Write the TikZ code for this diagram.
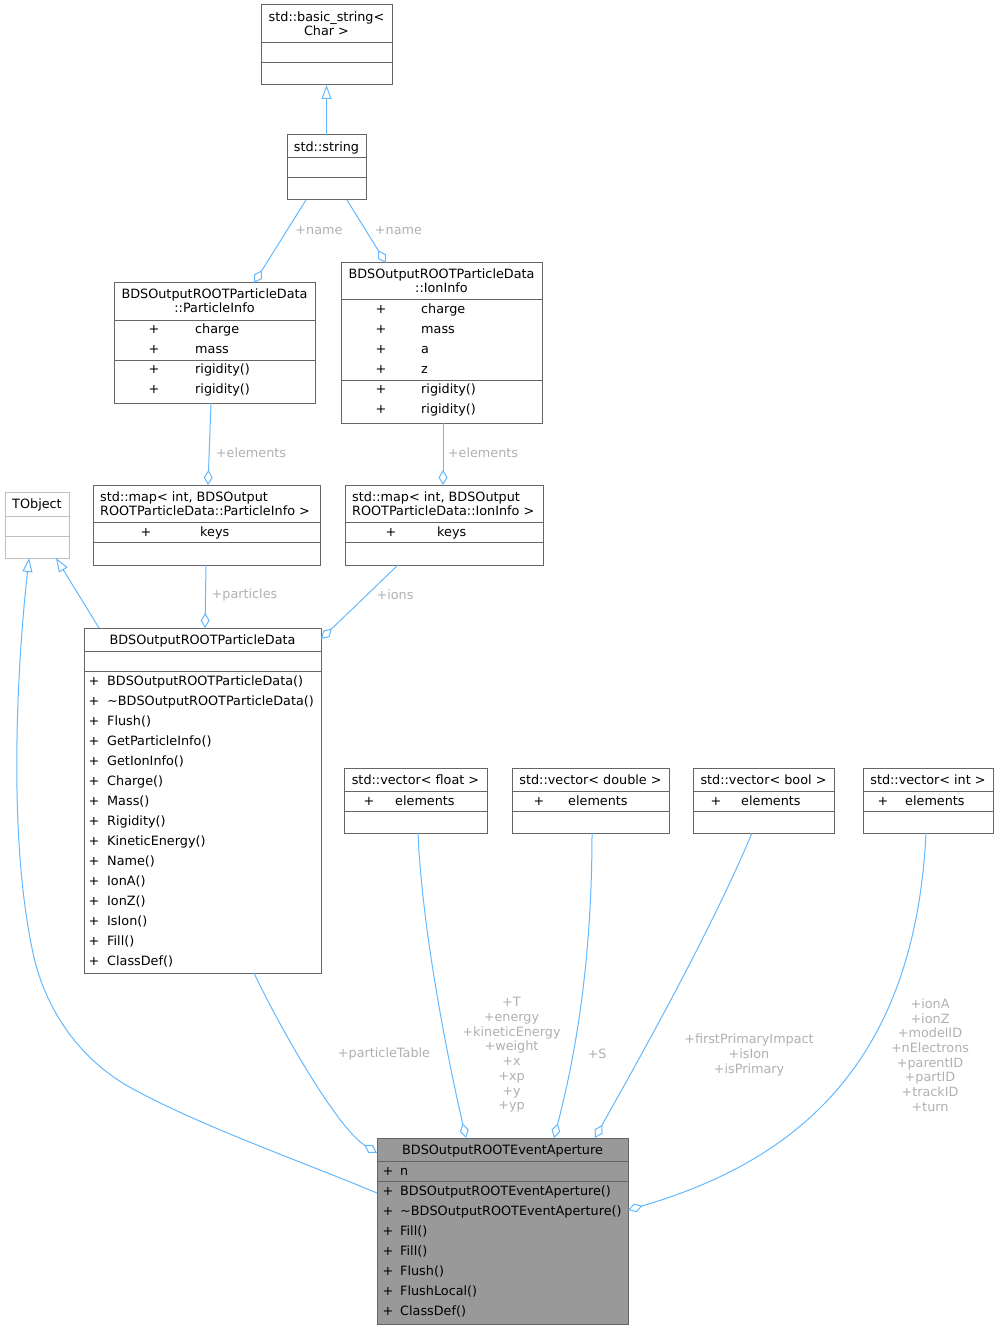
\documentclass[tikz,border=0pt]{standalone}
\usepackage{fontspec}
\setmainfont{DejaVu Sans}
\usetikzlibrary{arrows.meta,calc}
\definecolor{edgeblue}{HTML}{63B8FF}
\definecolor{boxgray}{HTML}{666666}
\definecolor{lightbox}{HTML}{BFBFBF}
\definecolor{eafill}{HTML}{999999}
\definecolor{lblgray}{HTML}{B0B0B0}
\newcommand\mybox[6]{\node[box,#6,minimum width={#4-#2},minimum height={#5-#3}] (#1) at (#2,#3) {};}
\newcommand\mysep[3][boxgray]{\draw[draw=#1,line width=1pt] ($(#2.north west)+(0,#3)$) -- ($(#2.north east)+(0,#3)$);}
\newcommand\mytc[4]{\node[rt,anchor=base] (#1) at (#2,#3) {#4};}
\newcommand\mytl[4]{\node[rt,anchor=base west] (#1) at (#2,#3) {#4};}
\newcommand\mylb[4]{\node[lt] (#1) at (#2,#3) {#4};}
\begin{document}
\begin{tikzpicture}[x=1pt,y=-1pt,
  box/.style={draw=boxgray,line width=1pt,fill=white,anchor=north west,inner sep=0pt,outer sep=0pt},
  rt/.style={font=\fontsize{12.8}{14.7}\selectfont,inner sep=0pt,text=black},
  lt/.style={font=\fontsize{12.8}{14.7}\selectfont,inner sep=0pt,text=lblgray,align=center},
  agg/.style={draw=edgeblue,line width=1pt,-{Diamond[open,length=15pt,width=9pt]}},
  inh/.style={draw=edgeblue,line width=1pt,-{Triangle[open,length=14pt,width=10pt]}}]
\useasboundingbox (0,0) rectangle (999,1329);

% std::basic_string< Char >
\mybox{bs}{261}{5}{392}{85}{}
\mysep{bs}{38}\mysep{bs}{58}
\mytc{bs1}{326.5}{21.5}{std::basic\_string<}
\mytc{bs2}{326.5}{35.5}{Char >}

% std::string
\mybox{str}{287}{135}{366}{200}{}
\mysep{str}{23}\mysep{str}{43}
\mytc{str1}{326.5}{151.5}{std::string}

% ParticleInfo
\mybox{pi}{114}{283}{315}{403}{}
\mysep{pi}{37}\mysep{pi}{77}
\mytc{pi1}{214.5}{298.8}{BDSOutputROOTParticleData}
\mytc{pi2}{214.5}{312.8}{::ParticleInfo}
\foreach[count=\i from 0] \m in {charge,mass,rigidity(),rigidity()}{
  \node[rt,anchor=base] (pip\i) at (154,333.5+20*\i) {+};
  \node[rt,anchor=base west] (pim\i) at (195,333.5+20*\i) {\m};
}

% IonInfo
\mybox{ion}{341}{263}{542}{423}{}
\mysep{ion}{37}\mysep{ion}{117}
\mytc{ion1}{441.5}{278.8}{BDSOutputROOTParticleData}
\mytc{ion2}{441.5}{292.8}{::IonInfo}
\foreach[count=\i from 0] \m in {charge,mass,a,z,rigidity(),rigidity()}{
  \node[rt,anchor=base] (ionp\i) at (381,313.5+20*\i) {+};
  \node[rt,anchor=base west] (ionm\i) at (421,313.5+20*\i) {\m};
}

% map ParticleInfo
\mybox{mpi}{93}{485}{320}{565}{}
\mysep{mpi}{37}\mysep{mpi}{57}
\mytl{mpi1}{100}{501.5}{std::map< int, BDSOutput}
\mytl{mpi2}{100}{515.5}{ROOTParticleData::ParticleInfo >}
\mytc{mpip}{146}{536.5}{+}
\mytl{mpik}{200}{536.5}{keys}

% map IonInfo
\mybox{mion}{345}{485}{543}{565}{}
\mysep{mion}{37}\mysep{mion}{57}
\mytl{mion1}{352}{501.5}{std::map< int, BDSOutput}
\mytl{mion2}{352}{515.5}{ROOTParticleData::IonInfo >}
\mytc{mionp}{391}{536.5}{+}
\mytl{mionk}{437}{536.5}{keys}

% TObject
\mybox{tobj}{5}{492}{69}{558}{draw=lightbox}
\mysep[lightbox]{tobj}{24}\mysep[lightbox]{tobj}{44}
\mytc{tobj1}{37}{508.5}{TObject}

% BDSOutputROOTParticleData
\mybox{pd}{84}{628}{321}{973}{}
\mysep{pd}{23}\mysep{pd}{43}
\mytc{pd1}{202.5}{644.5}{BDSOutputROOTParticleData}
\foreach[count=\i from 0] \m in {BDSOutputROOTParticleData(),\textasciitilde BDSOutputROOTParticleData(),Flush(),GetParticleInfo(),GetIonInfo(),Charge(),Mass(),Rigidity(),KineticEnergy(),Name(),IonA(),IonZ(),IsIon(),Fill(),ClassDef()}{
  \node[rt,anchor=base] (pdp\i) at (94,685.5+20*\i) {+};
  \node[rt,anchor=base west] (pdm\i) at (107,685.5+20*\i) {\m};
}

% vectors
\mybox{vf}{344}{768}{487}{833}{}
\mysep{vf}{23}\mysep{vf}{43}
\mytc{vf1}{415.5}{784.5}{std::vector< float >}
\mytc{vfp}{369}{805}{+}
\mytl{vfe}{395}{805}{elements}

\mybox{vd}{512}{768}{669}{833}{}
\mysep{vd}{23}\mysep{vd}{43}
\mytc{vd1}{590.5}{784.5}{std::vector< double >}
\mytc{vdp}{539}{805}{+}
\mytl{vde}{568}{805}{elements}

\mybox{vb}{693}{768}{834}{833}{}
\mysep{vb}{23}\mysep{vb}{43}
\mytc{vb1}{763.5}{784.5}{std::vector< bool >}
\mytc{vbp}{716}{805}{+}
\mytl{vbe}{741}{805}{elements}

\mybox{vi}{863}{768}{993}{833}{}
\mysep{vi}{23}\mysep{vi}{43}
\mytc{vi1}{928}{784.5}{std::vector< int >}
\mytc{vip}{883}{805}{+}
\mytl{vie}{905}{805}{elements}

% BDSOutputROOTEventAperture
\mybox{ea}{377}{1138}{628}{1324}{fill=eafill}
\mysep{ea}{23}\mysep{ea}{43}
\mytc{ea1}{502.5}{1154.5}{BDSOutputROOTEventAperture}
\mytc{eanp}{388}{1175.5}{+}
\mytl{ean}{400}{1175.5}{n}
\foreach[count=\i from 0] \m in {BDSOutputROOTEventAperture(),\textasciitilde BDSOutputROOTEventAperture(),Fill(),Fill(),Flush(),FlushLocal(),ClassDef()}{
  \node[rt,anchor=base] (eap\i) at (388,1195.5+20*\i) {+};
  \node[rt,anchor=base west] (eam\i) at (400,1195.5+20*\i) {\m};
}

% connectors
\draw[inh] ($(str.north west)+(39.5,0)$) -- ($(bs.south west)+(65.5,0)$);
\draw[agg] ($(str.south west)+(19,0)$) -- ($(pi.north west)+(140,0)$);
\draw[agg] ($(str.south west)+(60,0)$) -- ($(ion.north west)+(45,0)$);
\draw[agg] ($(pi.south west)+(97,0)$) -- ($(mpi.north west)+(115,0)$);
\draw[agg] ($(ion.south west)+(102,0)$) -- ($(mion.north west)+(98,0)$);
\draw[agg] ($(mpi.south west)+(113,0)$) -- ($(pd.north west)+(121,0)$);
\draw[agg] ($(mion.south west)+(53,0)$) .. controls (372,590) and (345,616) .. ($(pd.north east)+(0,11)$);
\draw[inh] ($(pd.north west)+(15,0)$) -- ($(tobj.south west)+(51,0)$);
\draw[inh] ($(ea.north west)+(0,55)$) .. controls (303,1162) and (203,1127) .. (133,1089) .. controls (81,1061) and (45.5,1011) .. (33,953) .. controls (7.7,836) and (17,667) .. ($(tobj.south west)+(24,0)$);
\draw[agg] ($(pd.south west)+(170,0)$) .. controls (279,1026) and (337,1128) .. ($(ea.north west)+(0,15)$);
\draw[agg] ($(vf.south west)+(74,0)$) .. controls (422,930) and (448,1060) .. ($(ea.north west)+(89,0)$);
\draw[agg] ($(vd.south west)+(80,0)$) .. controls (592,970) and (573,1065) .. ($(ea.north west)+(177,0)$);
\draw[agg] ($(vb.south west)+(59,0)$) .. controls (705.5,944) and (618,1096) .. ($(ea.north west)+(218,0)$);
\draw[agg] ($(vi.south west)+(63,0)$) .. controls (915,1060) and (800,1160) .. ($(ea.north east)+(0,72)$);

% labels
\mylb{l1}{319}{230.5}{+name}
\mylb{l2}{398.5}{230.5}{+name}
\mylb{l3}{251}{452.5}{+elements}
\mylb{l4}{483}{452.5}{+elements}
\mylb{l5}{244.5}{595}{+particles}
\mylb{l6}{395}{595}{+ions}
\mylb{l7}{384}{1054}{+particleTable}
\mylb{l8}{511.5}{1055}{+T\\+energy\\+kineticEnergy\\+weight\\+x\\+xp\\+y\\+yp}
\mylb{l9}{597}{1054}{+S}
\mylb{l10}{749}{1055}{+firstPrimaryImpact\\+isIon\\+isPrimary}
\mylb{l11}{930}{1055}{+ionA\\+ionZ\\+modelID\\+nElectrons\\+parentID\\+partID\\+trackID\\+turn}
\end{tikzpicture}
\end{document}
